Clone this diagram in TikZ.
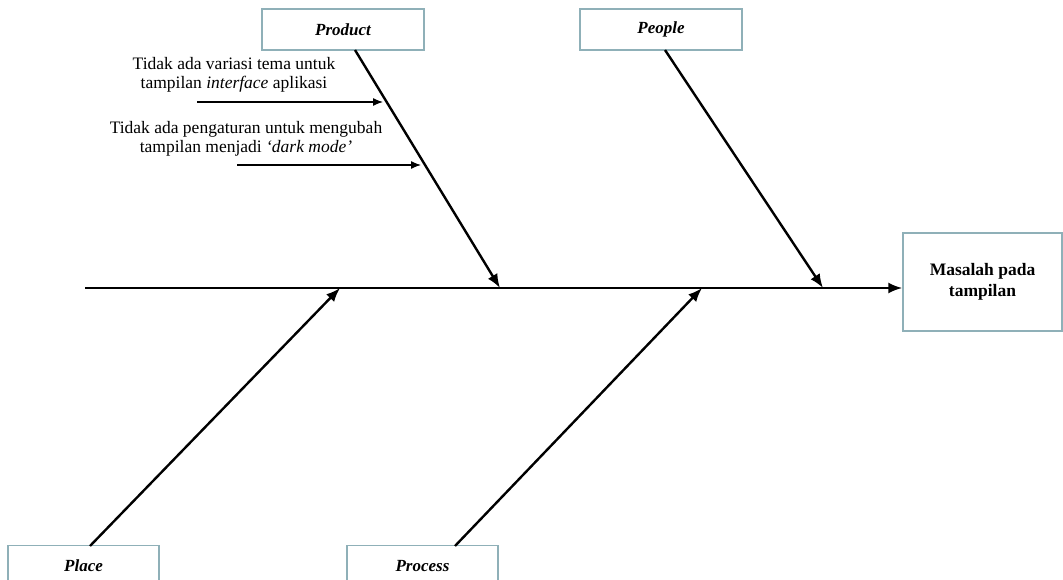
\documentclass[tikz,border=0pt]{standalone}
\usepackage{fontspec}
\setmainfont{Liberation Serif}
\usetikzlibrary{arrows.meta}
\definecolor{boxline}{HTML}{8FB0B8}
\begin{document}
\begin{tikzpicture}[x=1pt,y=-1pt,
  catbox/.style={draw=boxline,line width=1.3pt,fill=white,inner sep=0pt,
    minimum width=162pt,minimum height=41pt,font=\fontsize{17}{19}\selectfont\bfseries\itshape},
  headbox/.style={draw=boxline,line width=1.3pt,fill=white,inner sep=0pt,align=center,
    minimum width=159pt,minimum height=98pt,font=\fontsize{17.5}{21}\selectfont\bfseries},
  bone/.style={line width=2.4pt,-{Latex[length=14pt,width=11pt]}},
  subbone/.style={line width=1.3pt,-{Latex[length=10pt,width=8pt]}},
  cause/.style={align=center,inner sep=0pt,font=\fontsize{17.5}{19.5}\selectfont}]
\useasboundingbox (0,0) rectangle (1063,580);

% category boxes and effect box
\node[catbox] (product) at (343,29.5) {Product};
\node[catbox] (people) at (661,29.5) {People};
\node[catbox,minimum width=151pt] (place) at (83.5,566) {Place};
\node[catbox,minimum width=151pt] (process) at (422.5,566) {Process};
\node[headbox] (effect) at (982.5,282) {Masalah pada\\tampilan};

% spine
\coordinate (tail) at (85,288);
\draw[bone] (tail) -- (tail -| effect.west);

% bone end points
\coordinate (prodS) at (355,50);
\coordinate (prodE) at (500,288);
\coordinate (peopS) at (665,50);
\coordinate (peopE) at (823,288);
\coordinate (plcS) at (90,546);
\coordinate (plcE) at (340,288);
\coordinate (procS) at (455,546);
\coordinate (procE) at (702,288);

\draw[bone] (prodS) -- (prodE);
\draw[bone] (peopS) -- (peopE);
\draw[bone] (plcS) -- (plcE);
\draw[bone] (procS) -- (procE);

% causes on the Product bone
\node[cause] (c1) at (234,75) {Tidak ada variasi tema untuk\\tampilan \textit{interface} aplikasi};
\node[cause] (c2) at (246,139) {Tidak ada pengaturan untuk mengubah\\tampilan menjadi \textit{`dark mode'}};
\coordinate (c1s) at (197,102);
\coordinate (c1e) at (383,102);
\coordinate (c2s) at (237,165);
\coordinate (c2e) at (421,165);
\draw[subbone] (c1s) -- (c1e);
\draw[subbone] (c2s) -- (c2e);
\end{tikzpicture}
\end{document}
